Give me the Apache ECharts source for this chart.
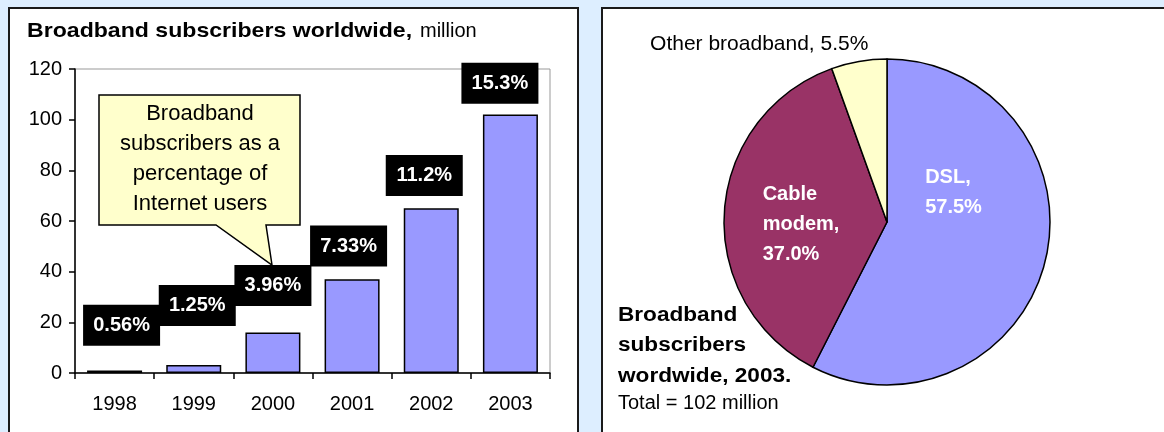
<!DOCTYPE html>
<html>
<head>
<meta charset="utf-8">
<script src="https://cdn.jsdelivr.net/npm/echarts@6/dist/echarts.min.js"></script>
<style>
  html, body { margin: 0; padding: 0; background: #ddeeff; }
  #chart { width: 1164px; height: 432px; }
</style>
</head>
<body>
<div id="chart"></div>
<script>
// left panel: subscribers per year, million
const years = ['1998', '1999', '2000', '2001', '2002', '2003']
const subscribers = [1, 3.2, 16, 37, 65, 102]
const pctOfInternetUsers = ['0.56%', '1.25%', '3.96%', '7.33%', '11.2%', '15.3%']
// level (million) at which each percentage tag is centred
const tagLevel = [18.8, 26.6, 34.5, 50.1, 78, 114.4]
const yTicks = [0, 20, 40, 60, 80, 100, 120]

// right panel: share by technology, 2003
const techNames = ['DSL', 'Cable modem', 'Other broadband']
const techShare = [57.5, 37.0, 5.5]
const techColors = ['#9999ff', '#993366', '#ffffcc']

const FONT = 'Arial, "Liberation Sans", sans-serif'

const chart = echarts.init(document.getElementById('chart'))

chart.setOption({
  backgroundColor: '#ddeeff',
  textStyle: { fontFamily: FONT },
  animation: false,
  graphic: [
    // panels
    { type: 'rect', z: -10, shape: { x: 9, y: 8, width: 569, height: 440 },
      style: { fill: '#fff', stroke: '#1a1a1a', lineWidth: 2 } },
    { type: 'rect', z: -10, shape: { x: 602, y: 8, width: 580, height: 440 },
      style: { fill: '#fff', stroke: '#1a1a1a', lineWidth: 2 } },
    // title (the original bold text is set wide, hence the stretch)
    { type: 'text', x: 27, y: 31, z: 5, scaleX: 1.1,
      style: {
        text: 'Broadband subscribers worldwide,',
        fontFamily: FONT, fontWeight: 'bold', fontSize: 21, fill: '#000',
        verticalAlign: 'middle',
      } },
    { type: 'text', x: 420, y: 31, z: 5,
      style: {
        text: 'million',
        fontFamily: FONT, fontSize: 20, fill: '#000',
        verticalAlign: 'middle',
      } },
    // callout
    { type: 'polygon', z: 10,
      shape: { points: [[99, 95], [300, 95], [300, 225], [266, 225], [272, 265], [216, 225], [99, 225]] },
      style: { fill: '#ffffcc', stroke: '#000', lineWidth: 1.5 } },
    { type: 'text', x: 200, y: 99, z: 11,
      style: {
        text: 'Broadband\nsubscribers as a\npercentage of\nInternet users',
        fontFamily: FONT, fontSize: 22, lineHeight: 30, fill: '#000',
        align: 'center', verticalAlign: 'top',
      } },
    // pie caption
    { type: 'text', x: 618, y: 300, z: 5, scaleX: 1.13,
      style: {
        text: 'Broadband\nsubscribers\nwordwide, 2003.',
        fontFamily: FONT, fontWeight: 'bold', fontSize: 20, lineHeight: 30.5, fill: '#000',
      } },
    { type: 'text', x: 618, y: 403, z: 5,
      style: {
        text: 'Total = 102 million',
        fontFamily: FONT, fontSize: 20, fill: '#000', verticalAlign: 'middle',
      } },
  ],
  grid: {
    left: 75, right: 614, top: 69, bottom: 59,
    show: true, borderColor: '#999', borderWidth: 1, backgroundColor: 'transparent',
  },
  xAxis: {
    type: 'category',
    data: years,
    axisLine: { lineStyle: { color: '#000', width: 1.5 } },
    axisTick: { show: true, length: 6, lineStyle: { color: '#000', width: 1.5 } },
    axisLabel: { color: '#000', fontSize: 20, margin: 21, fontFamily: FONT },
  },
  yAxis: {
    type: 'value',
    min: yTicks[0],
    max: yTicks[yTicks.length - 1],
    interval: yTicks[1] - yTicks[0],
    axisLine: { show: true, lineStyle: { color: '#000', width: 1.5 } },
    axisTick: { show: true, length: 6, lineStyle: { color: '#000', width: 1.5 } },
    axisLabel: { color: '#000', fontSize: 20, margin: 13, fontFamily: FONT },
    splitLine: { show: false },
  },
  series: [
    {
      type: 'bar',
      data: subscribers,
      barWidth: 55,
      itemStyle: { color: '#9999ff', borderColor: '#000', borderWidth: 1.5 },
      silent: true,
    },
    {
      type: 'scatter',
      data: tagLevel.map((v, i) => ({
        value: [i, v],
        label: { offset: [7 - 3.5 * i, 0] },
      })),
      symbolSize: 2,
      itemStyle: { color: 'rgba(0,0,0,0)', opacity: 1 },
      z: 5,
      silent: true,
      label: {
        show: true,
        position: 'inside',
        opacity: 1,
        formatter: p => pctOfInternetUsers[p.dataIndex],
        backgroundColor: '#000',
        color: '#fff',
        fontFamily: FONT,
        fontWeight: 'bold',
        fontSize: 20,
        lineHeight: 21,
        width: 57,
        align: 'center',
        padding: [10, 10],
      },
    },
    {
      type: 'pie',
      center: [887, 222],
      radius: 163,
      startAngle: 90,
      clockwise: true,
      avoidLabelOverlap: false,
      silent: true,
      itemStyle: { borderColor: '#000', borderWidth: 1.5 },
      data: techNames.map((name, i) => ({
        name,
        value: techShare[i],
        itemStyle: { color: techColors[i] },
        label: i < 2
          ? { position: 'inside', color: '#fff', fontWeight: 'bold', fontSize: 20, lineHeight: 30 }
          : { position: 'outside', color: '#000', fontSize: 21 },
        labelLine: { show: false, length: 15, length2: 0 },
      })),
      label: {
        fontFamily: FONT,
        formatter: p => p.dataIndex === 2
          ? `${p.name}, ${p.value.toFixed(1)}%`
          : `${p.name.replace(' ', '\n')},\n${p.value.toFixed(1)}%`,
      },
      labelLayout: p => [
        { dx: -44, dy: -49, align: 'left' },
        { dx: -40, dy: 8, align: 'left' },
        { dx: 17, dy: -2 },
      ][p.dataIndex],
    },
  ],
})
</script>
</body>
</html>
